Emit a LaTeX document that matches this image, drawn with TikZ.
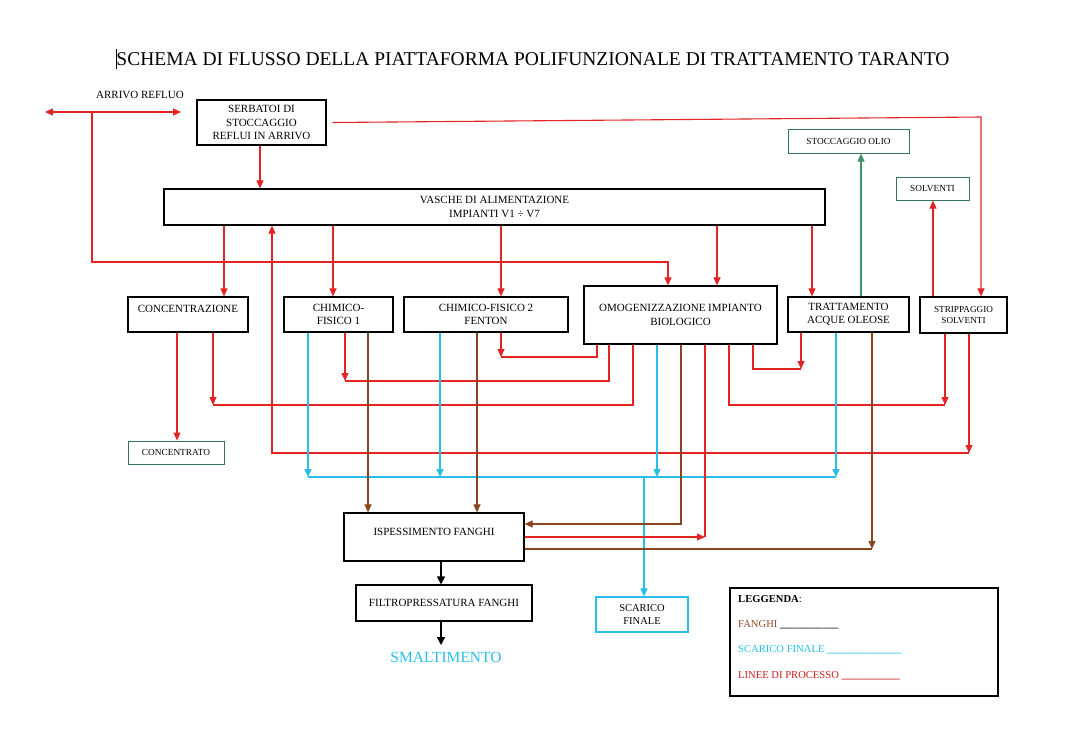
\documentclass[tikz,border=0pt]{standalone}
\usepackage{fontspec}
\setmainfont{Liberation Serif}
\usetikzlibrary{arrows.meta}
\definecolor{redl}{RGB}{226,36,36}
\definecolor{brownl}{RGB}{140,68,32}
\definecolor{cyanl}{RGB}{40,190,232}
\definecolor{greenl}{RGB}{62,145,105}
\definecolor{greenb}{RGB}{50,118,92}
\definecolor{legred}{RGB}{200,30,30}
\definecolor{legbrown}{RGB}{150,70,40}
\begin{document}
\begin{tikzpicture}[x=1pt,y=-1pt,
  box/.style={draw=black, line width=1.2pt, rectangle, inner sep=0pt, align=center, font=\fontsize{11}{13.2}\selectfont},
  gbox/.style={draw=greenb, line width=1pt, rectangle, inner sep=0pt, align=center, font=\fontsize{9.3}{11}\selectfont},
  tip/.style={-{Triangle[length=8pt,width=7pt]}},
  rl/.style={draw=redl, line width=1.1pt},
  ra/.style={rl, tip},
  bl/.style={draw=cyanl, line width=1.1pt},
  ba/.style={bl, tip},
  brl/.style={draw=brownl, line width=1.1pt},
  bra/.style={brl, tip},
  ka/.style={draw=black, line width=1.2pt, -{Triangle[length=8pt,width=8pt]}},
  legtext/.style={anchor=west, inner sep=0pt, font=\fontsize{10.6}{12}\selectfont},
]
\useasboundingbox (0,0) rectangle (1067,739);

% title
\node[inner sep=0pt, font=\fontsize{19.5}{22}\selectfont] (title) at (533,59) {SCHEMA DI FLUSSO DELLA PIATTAFORMA POLIFUNZIONALE DI TRATTAMENTO TARANTO};
\draw[black, line width=1pt] (116,49) -- (116,69);

% arrivo refluo
\node[inner sep=0pt, font=\fontsize{11}{12}\selectfont] (arrivo) at (140,95) {ARRIVO REFLUO};
\coordinate (arrL) at (45,112);
\coordinate (arrR) at (181,112);
\coordinate (arrdrop) at (92,113);
\draw[rl, {Triangle[length=8pt,width=7pt]}-{Triangle[length=8pt,width=7pt]}] (arrL) -- (arrR);

% boxes
\node[box, minimum width=129pt, minimum height=45pt] (serb) at (261.5,122.5) {SERBATOI DI\\STOCCAGGIO\\REFLUI IN ARRIVO};
\node[box, minimum width=661pt, minimum height=36pt] (vasche) at (494.5,207) {VASCHE DI ALIMENTAZIONE\\IMPIANTI V1 ÷ V7};
\node[box, minimum width=120pt, minimum height=35pt] (conc) at (188,314.5) {\raisebox{2pt}[0pt][0pt]{CONCENTRAZIONE}};
\node[box, minimum width=109pt, minimum height=35pt] (cf1) at (338.5,314.5) {CHIMICO-\\FISICO 1};
\node[box, minimum width=164pt, minimum height=35pt] (cf2) at (486,314.5) {CHIMICO-FISICO 2\\FENTON};
\node[box, minimum width=193pt, minimum height=58pt] (omog) at (680.5,315) {OMOGENIZZAZIONE IMPIANTO\\BIOLOGICO};
\node[box, minimum width=121pt, minimum height=35pt] (tratt) at (848.5,314.5) {TRATTAMENTO\\ACQUE OLEOSE};
\node[box, minimum width=87pt, minimum height=36pt, font=\fontsize{9.2}{11.5}\selectfont] (strip) at (963.5,315) {STRIPPAGGIO\\SOLVENTI};
\node[gbox, minimum width=121pt, minimum height=24pt] (stocc) at (848.5,141) {STOCCAGGIO OLIO};
\node[gbox, minimum width=73pt, minimum height=23pt] (solv) at (932.5,188.5) {SOLVENTI};
\node[gbox, minimum width=96pt, minimum height=23pt] (concentrato) at (176,452.5) {CONCENTRATO};
\node[box, minimum width=180pt, minimum height=48pt] (ispess) at (434,537) {\raisebox{1.5pt}[0pt][0pt]{ISPESSIMENTO FANGHI}};
\node[box, minimum width=176pt, minimum height=36pt] (filtro) at (444,603) {FILTROPRESSATURA FANGHI};
\node[box, draw=cyanl, minimum width=92pt, minimum height=35pt, font=\fontsize{10.5}{13}\selectfont] (scarico) at (642,614.5) {SCARICO\\FINALE};
\node[inner sep=0pt, text=cyanl, font=\fontsize{15.5}{17}\selectfont] (smalt) at (446,657) {SMALTIMENTO};

% legend
\node[draw=black, line width=1.2pt, minimum width=268pt, minimum height=108pt, inner sep=0pt] (leg) at (864,642) {};
\node[legtext] (leg1) at (738,599) {\textbf{LEGGENDA}:};
\node[legtext, text=legbrown] (leg2) at (738,625) {FANGHI \textcolor{black!80!brown}{\textbf{\_\_\_\_\_\_\_\_\_\_\_}}};
\node[legtext, text=cyanl] (leg3) at (738,650) {SCARICO FINALE \textbf{\_\_\_\_\_\_\_\_\_\_\_\_\_\_}};
\node[legtext, text=legred] (leg4) at (738,676) {LINEE DI PROCESSO \textbf{\_\_\_\_\_\_\_\_\_\_\_}};

% red process lines from top
\draw[ra] (260,0 |- serb.south) -- (260,0 |- vasche.north);
\draw[ra] ([xshift=6pt]serb.east) -- (981,117) -- (981,0 |- strip.north);
\draw[ra] (arrdrop) -- (92,262) -- (668,262) -- (668,0 |- omog.north);
\draw[ra] (224,0 |- vasche.south) -- (224,0 |- conc.north);
\draw[ra] (333,0 |- vasche.south) -- (333,0 |- cf1.north);
\draw[ra] (501,0 |- vasche.south) -- (501,0 |- cf2.north);
\draw[ra] (717,0 |- vasche.south) -- (717,0 |- omog.north);
\draw[ra] (812,0 |- vasche.south) -- (812,0 |- tratt.north);
\draw[draw=greenl, line width=1.1pt, tip] (861,0 |- tratt.north) -- (861,0 |- stocc.south);
\draw[ra] (933,0 |- strip.north) -- (933,0 |- solv.south);

% returns to vasche
\draw[ra] (969,0 |- strip.south) -- (969,453);
\draw[ra] (969,453) -- (272,453) -- (272,0 |- vasche.south);

% concentrazione
\draw[ra] (177,0 |- conc.south) -- (177,0 |- concentrato.north);
\draw[ra] (213,0 |- conc.south) -- (213,405);
\draw[rl] (633,0 |- omog.south) -- (633,405) -- (213,405);

% chimico-fisico 1 and 2
\draw[ra] (345,0 |- cf1.south) -- (345,381);
\draw[rl] (609,0 |- omog.south) -- (609,381) -- (345,381);
\draw[ra] (501,0 |- cf2.south) -- (501,357);
\draw[rl] (597,0 |- omog.south) -- (597,357) -- (501,357);

% trattamento / strippaggio
\draw[ra] (801,0 |- tratt.south) -- (801,369);
\draw[rl] (753,0 |- omog.south) -- (753,369) -- (801,369);
\draw[ra] (945,0 |- strip.south) -- (945,405);
\draw[rl] (729,0 |- omog.south) -- (729,405) -- (945,405);

% scarico finale (cyan)
\draw[ba] (308,0 |- cf1.south) -- (308,477);
\draw[ba] (440,0 |- cf2.south) -- (440,477);
\draw[ba] (657,0 |- omog.south) -- (657,477);
\draw[ba] (836,0 |- tratt.south) -- (836,477);
\draw[bl] (308,477) -- (836,477);
\draw[ba] (644,477) -- (644,0 |- scarico.north);

% fanghi (brown)
\draw[bra] (368,0 |- cf1.south) -- (368,0 |- ispess.north);
\draw[bra] (477,0 |- cf2.south) -- (477,0 |- ispess.north);
\draw[bra] (681,0 |- omog.south) -- (681,524) -- (ispess.east |- 0,524);
\draw[bra] (872,0 |- tratt.south) -- (872,549);
\draw[brl] (ispess.east |- 0,549) -- (872,549);

% red from ispessimento
\draw[ra] (ispess.east |- 0,537) -- (705,537);
\draw[rl] (705,0 |- omog.south) -- (705,537);

% black
\draw[ka] (441,0 |- ispess.south) -- (441,0 |- filtro.north);
\draw[ka] (441,0 |- filtro.south) -- (441,645);
\end{tikzpicture}
\end{document}
